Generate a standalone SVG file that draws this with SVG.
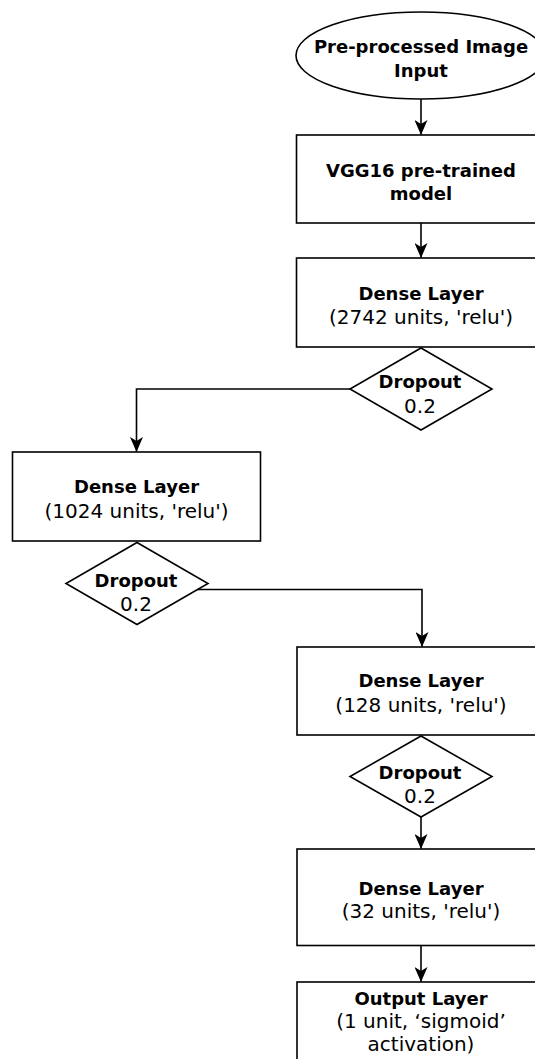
<svg xmlns="http://www.w3.org/2000/svg" width="535" height="1059" viewBox="0 0 535 1059">
<style>
.shape{fill:#ffffff;stroke:#000000;stroke-width:1.6}
.edge{fill:none;stroke:#000000;stroke-width:1.6}
text{font-family:"DejaVu Sans","Liberation Sans",sans-serif;fill:#000000;text-anchor:middle}
.b{font-weight:bold;font-size:18px}
.r{font-size:20px}
</style>
<defs>
<marker id="arr" viewBox="0 0 15 13" refX="14.5" refY="6.5" markerWidth="15" markerHeight="13" markerUnits="userSpaceOnUse" orient="auto">
<path d="M0,0 L15,6.5 L0,13 L4,6.5 z" fill="#000000"/>
</marker>
</defs>
<rect width="535" height="1059" fill="#ffffff"/>
<g id="connectors">
<path class="edge" d="M421,99 L421,134.5" marker-end="url(#arr)"/>
<path class="edge" d="M421,223 L421,257.5" marker-end="url(#arr)"/>
<path class="edge" d="M350,389 L136.5,389 L136.5,451.5" marker-end="url(#arr)"/>
<path class="edge" d="M194,589.5 L422,589.5 L422,646.5" marker-end="url(#arr)"/>
<path class="edge" d="M421,817 L421,848.5" marker-end="url(#arr)"/>
<path class="edge" d="M421,945.5 L421,981.5" marker-end="url(#arr)"/>
</g>
<g id="input">
<ellipse class="shape" cx="421" cy="55.5" rx="125" ry="43.5"/>
<text class="b" x="421" y="53">Pre-processed Image</text>
<text class="b" x="421" y="77">Input</text>
</g>
<g id="vgg16">
<rect class="shape" x="296.5" y="135" width="250" height="88"/>
<text class="b" x="421" y="177">VGG16 pre-trained</text>
<text class="b" x="421" y="200">model</text>
</g>
<g id="dense2742">
<rect class="shape" x="296.5" y="258" width="250" height="89"/>
<text class="b" x="421" y="300">Dense Layer</text>
<text class="r" x="421" y="324">(2742 units, 'relu')</text>
</g>
<g id="dropout1">
<polygon class="shape" points="421,348 492,389 421,430 350,389"/>
<text class="b" x="420" y="388">Dropout</text>
<text class="r" x="420" y="413">0.2</text>
</g>
<g id="dense1024">
<rect class="shape" x="12.5" y="452" width="248" height="89"/>
<text class="b" x="136.5" y="493">Dense Layer</text>
<text class="r" x="136.5" y="518">(1024 units, 'relu')</text>
</g>
<g id="dropout2">
<polygon class="shape" points="137,542.5 208,583.5 137,624.5 66,583.5"/>
<text class="b" x="136" y="587">Dropout</text>
<text class="r" x="136" y="611">0.2</text>
</g>
<g id="dense128">
<rect class="shape" x="297" y="647" width="250" height="88"/>
<text class="b" x="421" y="687">Dense Layer</text>
<text class="r" x="421" y="712">(128 units, 'relu')</text>
</g>
<g id="dropout3">
<polygon class="shape" points="421,736 492,776.5 421,817 350,776.5"/>
<text class="b" x="420" y="779">Dropout</text>
<text class="r" x="420" y="803">0.2</text>
</g>
<g id="dense32">
<rect class="shape" x="297" y="849" width="250" height="96.5"/>
<text class="b" x="421" y="895">Dense Layer</text>
<text class="r" x="421" y="918">(32 units, 'relu')</text>
</g>
<g id="output">
<rect class="shape" x="297" y="982" width="250" height="90"/>
<text class="b" x="421" y="1005">Output Layer</text>
<text class="r" x="421" y="1028">(1 unit, ‘sigmoid’</text>
<text class="r" x="421" y="1051">activation)</text>
</g>
</svg>
